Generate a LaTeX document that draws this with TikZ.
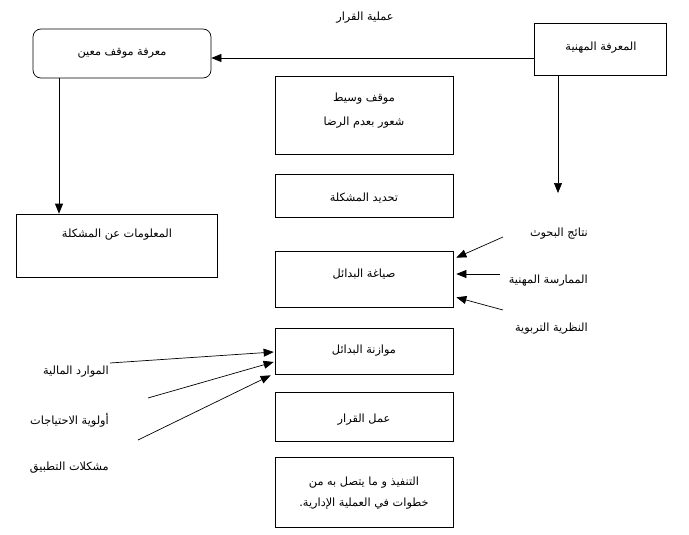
\documentclass[tikz,border=0pt]{standalone}
\usepackage{fontspec}
\usetikzlibrary{arrows.meta,calc}
\TeXXeTstate=1
\newfontfamily\arabicfont[Script=Arabic]{DejaVu Sans}
\begin{document}
\begin{tikzpicture}[x=1pt,y=-1pt,
  box/.style={draw, line width=0.7pt, inner sep=0pt, minimum width=178pt},
  lbl/.style={font=\arabicfont\fontsize{11.3}{13}\selectfont, inner sep=0pt},
  arr/.style={-{Triangle[length=10pt,width=8pt]}, line width=0.7pt}]
\useasboundingbox (0,0) rectangle (689,535);
% boxes
\node[box, rounded corners=8pt, minimum height=49pt] (mk) at (122,53.5) {};
\node[box, minimum width=132pt, minimum height=52pt] (prof) at (600,49) {};
\node[box, minimum height=78pt] (m1) at (364,115) {};
\node[box, minimum height=43pt] (m2) at (364,195.5) {};
\node[box, minimum width=201pt, minimum height=63pt] (info) at (116.5,245.5) {};
\node[box, minimum height=56pt] (m3) at (364,279) {};
\node[box, minimum height=46pt] (m4) at (364,351) {};
\node[box, minimum height=49pt] (m5) at (364,416.5) {};
\node[box, minimum height=70pt] (m6) at (364,492) {};
% texts
\node[lbl] (title) at (365,18) {\beginR عملية القرار\endR};
\node[lbl] (tmk) at (122,53) {\beginR معرفة موقف معين\endR};
\node[lbl] (tprof) at (601,48) {\beginR المعرفة المهنية\endR};
\node[lbl] (tm1a) at (364,99) {\beginR موقف وسيط\endR};
\node[lbl] (tm1b) at (364,123) {\beginR شعور بعدم الرضا\endR};
\node[lbl] (tm2) at (364,198) {\beginR تحديد المشكلة\endR};
\node[lbl] (tinfo) at (117,235) {\beginR المعلومات عن المشكلة\endR};
\node[lbl] (tm3) at (364,274) {\beginR صياغة البدائل\endR};
\node[lbl] (tm4) at (364,351) {\beginR موازنة البدائل\endR};
\node[lbl] (tm5) at (364,420) {\beginR عمل القرار\endR};
\node[lbl] (tm6a) at (364,483) {\beginR التنفيذ و ما يتصل به من\endR};
\node[lbl] (tm6b) at (364,504) {\beginR خطوات في العملية الإدارية.\endR};
\node[lbl, anchor=east] (r1) at (588,234) {\beginR نتائج البحوث\endR};
\node[lbl, anchor=east] (r2) at (588,281) {\beginR الممارسة المهنية\endR};
\node[lbl, anchor=east] (r3) at (588,329) {\beginR النظرية التربوية\endR};
\node[lbl, anchor=east] (l1) at (109,372) {\beginR الموارد المالية\endR};
\node[lbl, anchor=east] (l2) at (109,420) {\beginR أولوية الاحتياجات\endR};
\node[lbl, anchor=east] (l3) at (109,468) {\beginR مشكلات التطبيق\endR};
% connector coordinates
\coordinate (hy) at (0,58);
\coordinate (vl) at (59,0);
\coordinate (vr) at (558,0);
\coordinate (vrend) at (558,193);
\coordinate (r1s) at (503,237);
\coordinate (r2s) at (500,274);
\coordinate (r3s) at (503,310);
\coordinate (l1s) at (110,363);
\coordinate (l2s) at (148,398);
\coordinate (l3s) at (138,440);
% connectors
\draw[arr] (prof.west |- hy) -- (mk.east |- hy);
\draw[arr] (mk.south -| vl) -- (info.north -| vl);
\draw[arr] (prof.south -| vr) -- (vrend);
\draw[arr] (r1s) -- ($(m3.north east)+(3,7)$);
\draw[arr] (r2s) -- ($(m3.east)+(3,-5)$);
\draw[arr] (r3s) -- ($(m3.south east)+(3,-10)$);
\draw[arr] (l1s) -- ($(m4.west)+(-1,1)$);
\draw[arr] (l2s) -- ($(m4.west)+(-1,11)$);
\draw[arr] (l3s) -- ($(m4.south west)+(-4,1)$);
\end{tikzpicture}
\end{document}
